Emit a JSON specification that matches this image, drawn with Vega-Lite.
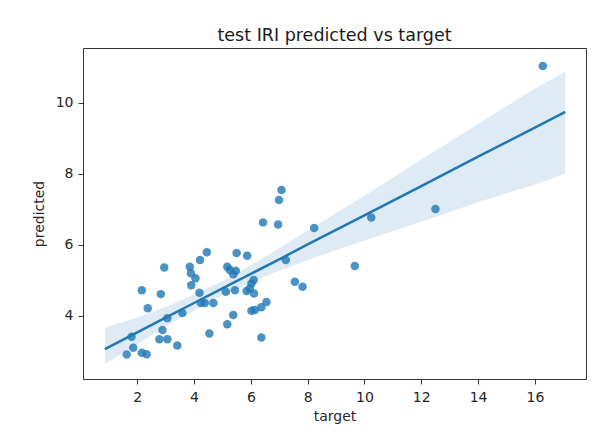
{
  "$schema": "https://vega.github.io/schema/vega-lite/v6.json",
  "autosize": "none",
  "width": 503,
  "height": 331,
  "padding": {"left": 83, "top": 48, "right": 17, "bottom": 60},
  "background": "white",
  "title": {"text": "test IRI predicted vs target", "font": "DejaVu Sans", "fontSize": 17.5, "fontWeight": "normal", "color": "#1a1a1a", "offset": 4},
  "config": {
    "view": {"stroke": "#333333", "strokeWidth": 1},
    "axis": {
      "font": "DejaVu Sans",
      "labelFont": "DejaVu Sans",
      "titleFont": "DejaVu Sans",
      "labelFontSize": 14,
      "titleFontSize": 14,
      "titleFontWeight": "normal",
      "labelColor": "#262626",
      "titleColor": "#262626",
      "tickColor": "#333333",
      "tickSize": 5,
      "labelPadding": 5,
      "grid": false,
      "domain": false
    }
  },
  "datasets": {
    "points": [
      {"target": 1.63, "predicted": 2.91},
      {"target": 1.80, "predicted": 3.41},
      {"target": 1.86, "predicted": 3.10},
      {"target": 2.16, "predicted": 4.72},
      {"target": 2.16, "predicted": 2.96},
      {"target": 2.33, "predicted": 2.92},
      {"target": 2.37, "predicted": 4.21},
      {"target": 2.83, "predicted": 4.61},
      {"target": 2.89, "predicted": 3.60},
      {"target": 2.95, "predicted": 5.36},
      {"target": 2.78, "predicted": 3.34},
      {"target": 3.06, "predicted": 3.34},
      {"target": 3.06, "predicted": 3.93},
      {"target": 3.41, "predicted": 3.16},
      {"target": 3.59, "predicted": 4.08},
      {"target": 3.85, "predicted": 5.38},
      {"target": 3.89, "predicted": 5.20},
      {"target": 4.05, "predicted": 5.06},
      {"target": 3.90, "predicted": 4.86},
      {"target": 4.19, "predicted": 4.65},
      {"target": 4.21, "predicted": 5.57},
      {"target": 4.45, "predicted": 5.79},
      {"target": 4.24, "predicted": 4.36},
      {"target": 4.38, "predicted": 4.36},
      {"target": 4.68, "predicted": 4.36},
      {"target": 4.54, "predicted": 3.50},
      {"target": 5.17, "predicted": 5.38},
      {"target": 5.26, "predicted": 5.29},
      {"target": 5.47, "predicted": 5.27},
      {"target": 5.38, "predicted": 5.17},
      {"target": 5.50, "predicted": 5.77},
      {"target": 5.87, "predicted": 5.69},
      {"target": 5.12, "predicted": 4.68},
      {"target": 5.44, "predicted": 4.72},
      {"target": 5.85, "predicted": 4.70},
      {"target": 5.96, "predicted": 4.77},
      {"target": 6.11, "predicted": 4.63},
      {"target": 6.10, "predicted": 5.01},
      {"target": 6.02, "predicted": 4.91},
      {"target": 5.38, "predicted": 4.02},
      {"target": 5.17, "predicted": 3.76},
      {"target": 6.55, "predicted": 4.39},
      {"target": 6.37, "predicted": 4.24},
      {"target": 6.02, "predicted": 4.14},
      {"target": 6.14, "predicted": 4.16},
      {"target": 6.37, "predicted": 3.39},
      {"target": 6.43, "predicted": 6.63},
      {"target": 6.96, "predicted": 6.57},
      {"target": 6.99, "predicted": 7.26},
      {"target": 7.08, "predicted": 7.54},
      {"target": 7.23, "predicted": 5.57},
      {"target": 7.55, "predicted": 4.96},
      {"target": 7.82, "predicted": 4.82},
      {"target": 8.23, "predicted": 6.47},
      {"target": 9.66, "predicted": 5.40},
      {"target": 10.24, "predicted": 6.77},
      {"target": 12.50, "predicted": 7.01},
      {"target": 16.28, "predicted": 11.03}
    ],
    "fit": [
      {"target": 0.86, "fit": 3.06, "lo": 2.64, "hi": 3.66},
      {"target": 2, "fit": 3.53, "lo": 3.20, "hi": 3.95},
      {"target": 3, "fit": 3.95, "lo": 3.70, "hi": 4.25},
      {"target": 4, "fit": 4.36, "lo": 4.15, "hi": 4.60},
      {"target": 5, "fit": 4.77, "lo": 4.57, "hi": 4.98},
      {"target": 6, "fit": 5.18, "lo": 4.94, "hi": 5.43},
      {"target": 7, "fit": 5.59, "lo": 5.27, "hi": 5.90},
      {"target": 8, "fit": 6.01, "lo": 5.57, "hi": 6.40},
      {"target": 10, "fit": 6.83, "lo": 6.12, "hi": 7.38},
      {"target": 12, "fit": 7.65, "lo": 6.65, "hi": 8.40},
      {"target": 14, "fit": 8.48, "lo": 7.20, "hi": 9.40},
      {"target": 16, "fit": 9.30, "lo": 7.70, "hi": 10.40},
      {"target": 17.07, "fit": 9.74, "lo": 8.00, "hi": 10.88}
    ]
  },
  "layer": [
    {
      "data": {"name": "points"},
      "mark": {"type": "circle", "size": 72, "color": "#1f77b4", "opacity": 0.8},
      "encoding": {
        "x": {"field": "target", "type": "quantitative", "scale": {"domain": [0.09, 17.8], "nice": false, "zero": false}, "axis": {"values": [2, 4, 6, 8, 10, 12, 14, 16], "title": "target", "titlePadding": 5, "labelPadding": 6}},
        "y": {"field": "predicted", "type": "quantitative", "scale": {"domain": [2.22, 11.54], "nice": false, "zero": false}, "axis": {"values": [4, 6, 8, 10], "title": "predicted", "titlePadding": 9}}
      }
    },
    {
      "data": {"name": "fit"},
      "mark": {"type": "area", "color": "#1f77b4", "opacity": 0.15},
      "encoding": {
        "x": {"field": "target", "type": "quantitative"},
        "y": {"field": "lo", "type": "quantitative"},
        "y2": {"field": "hi"}
      }
    },
    {
      "data": {"name": "fit"},
      "mark": {"type": "line", "color": "#1f77b4", "strokeWidth": 2.5},
      "encoding": {
        "x": {"field": "target", "type": "quantitative"},
        "y": {"field": "fit", "type": "quantitative"}
      }
    }
  ]
}
